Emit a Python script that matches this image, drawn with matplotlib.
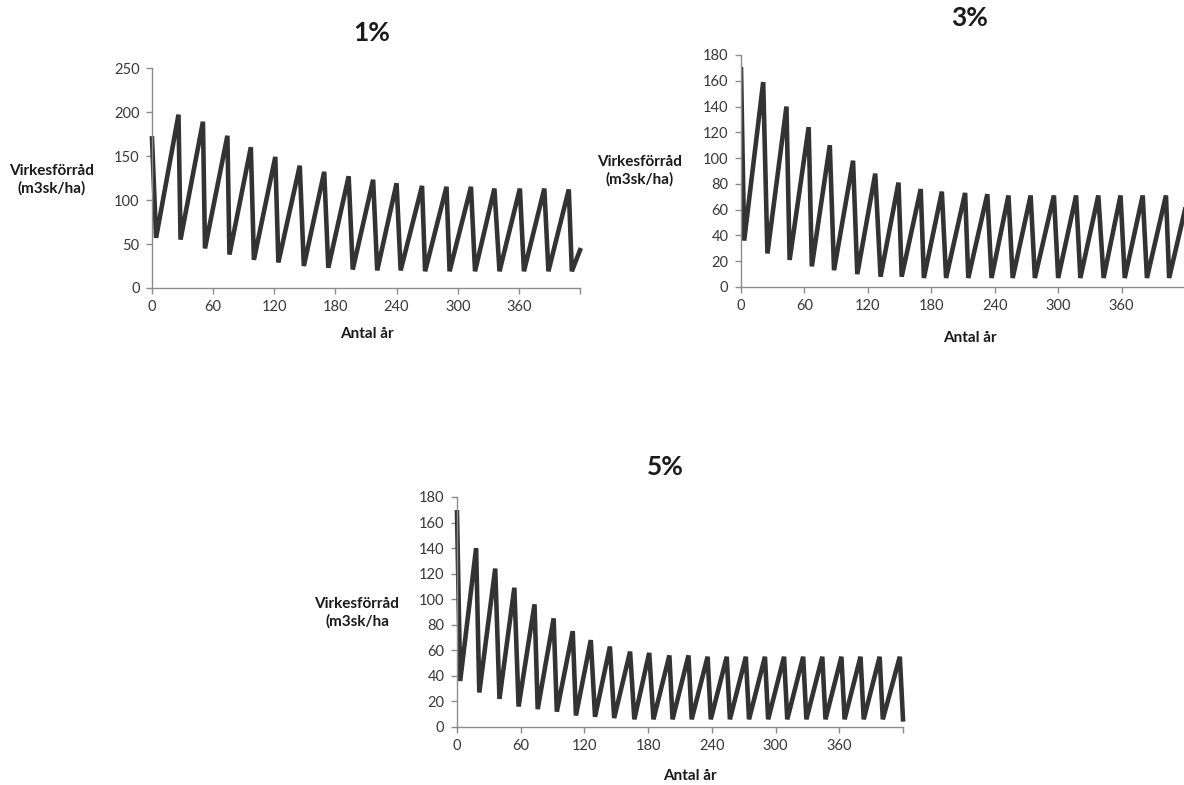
import matplotlib.pyplot as plt

plt.rcParams['font.family'] = ['Lato', 'DejaVu Sans']

# vertices (year, m3sk/ha)
years_1 = [0, 4, 26, 28, 50, 52, 74, 76, 97, 100, 121, 124, 145, 149, 169, 173,
           193, 197, 217, 221, 240, 244, 265, 268, 289, 292, 313, 317, 336, 341,
           361, 365, 385, 389, 409, 412, 420]
stock_1 = [170, 57, 197, 55, 189, 45, 173, 38, 160, 32, 149, 29, 139, 25, 132, 23,
           127, 21, 123, 20, 119, 20, 116, 19, 115, 19, 115, 19, 113, 19,
           113, 19, 113, 19, 112, 19, 43]

years_3 = [0, 3, 21, 25, 43, 46, 64, 67, 84, 88, 106, 110, 127, 132, 149, 152,
           170, 173, 190, 194, 212, 215, 233, 237, 253, 257, 274, 278, 296, 300,
           317, 321, 338, 343, 359, 363, 380, 384, 402, 405, 420]
stock_3 = [169, 36, 159, 26, 140, 21, 124, 16, 110, 13, 98, 10, 88, 8, 81, 8,
           76, 7, 74, 7, 73, 7, 72, 7, 71, 7, 71, 7, 71, 7,
           71, 7, 71, 7, 71, 7, 71, 7, 71, 7, 60]

years_5 = [0, 3, 18, 21, 36, 40, 54, 58, 73, 76, 91, 94, 109, 112, 126, 130,
           144, 148, 163, 167, 181, 185, 200, 203, 218, 221, 236, 239, 254, 257,
           272, 275, 290, 293, 308, 311, 326, 329, 344, 347, 362, 365, 380, 383,
           398, 401, 417, 420]
stock_5 = [168, 36, 140, 27, 124, 22, 109, 16, 96, 14, 85, 12, 75, 9, 68, 8,
           63, 7, 59, 6, 58, 6, 56, 6, 56, 6, 55, 6, 55, 6,
           55, 6, 55, 6, 55, 6, 55, 6, 55, 6, 55, 6, 55, 6,
           55, 6, 55, 6]

x_ticks = [0, 60, 120, 180, 240, 300, 360, 420]
x_labels = ['0', '60', '120', '180', '240', '300', '360', '']

W, H = 1184, 785
fig = plt.figure(figsize=(W / 100, H / 100), dpi=100)


def px_axes(x0, y_top, x1, y_bot):
    return fig.add_axes([x0 / W, 1 - y_bot / H, (x1 - x0) / W, (y_bot - y_top) / H])


def style(ax, ymax, ystep):
    ax.set_xlim(0, 420)
    ax.set_ylim(0, ymax)
    ax.set_xticks(x_ticks)
    ax.set_xticklabels(x_labels)
    ax.set_yticks(range(0, ymax + 1, ystep))
    for s in ['top', 'right']:
        ax.spines[s].set_visible(False)
    for s in ['left', 'bottom']:
        ax.spines[s].set_color('#8c8c8c')
        ax.spines[s].set_linewidth(1.0)
    ax.tick_params(colors='#8c8c8c', labelcolor='#383838', labelsize=10.5,
                   length=4, width=1.0, pad=5)
    ax.patch.set_alpha(0)


def label(x, y, text, size=11):
    fig.text(x / W, 1 - y / H, text, ha='center', va='center', fontsize=size,
             fontweight='bold', color='#1a1a1a', linespacing=1.3)


line_kw = dict(color='#333333', lw=3.3, solid_joinstyle='miter', clip_on=False)

ax1 = px_axes(152, 68, 580, 288)
ax1.plot(years_1, stock_1, **line_kw)
style(ax1, 250, 50)
label(372, 33, '1%', 19)
label(52, 180, 'Virkesförråd\n(m3sk/ha)')
label(367, 334, 'Antal år')

ax2 = px_axes(741, 55, 1185, 287)
ax2.plot(years_3, stock_3, color='#333333', lw=3.3, solid_joinstyle='miter')
style(ax2, 180, 20)
label(970, 18, '3%', 19)
label(640, 171, 'Virkesförråd\n(m3sk/ha)')
label(970, 338, 'Antal år')

ax3 = px_axes(457, 497, 903, 727)
ax3.plot(years_5, stock_5, **line_kw)
style(ax3, 180, 20)
label(665, 467, '5%', 19)
label(357, 613, 'Virkesförråd\n(m3sk/ha')
label(690, 776, 'Antal år')

fig.savefig('out.png', dpi=100)
